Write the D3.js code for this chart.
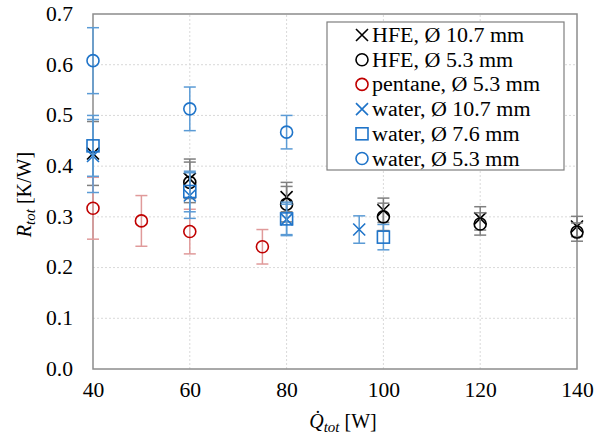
<!DOCTYPE html>
<html>
<head>
<meta charset="utf-8">
<script src="https://d3js.org/d3.v7.min.js"></script>
<style>
  body { margin: 0; background: #fff; }
</style>
</head>
<body>
<div id="chart"></div>
<script>
// tick labels
const xTicks = [40, 60, 80, 100, 120, 140];
const yTicks = [0, 0.1, 0.2, 0.3, 0.4, 0.5, 0.6, 0.7];

// series values (Q_tot [W], R_tot [K/W], error)
const hfe107Q = [40, 60, 80, 100, 120, 140];
const hfe107R = [0.425, 0.375, 0.339, 0.313, 0.297, 0.281];
const hfe107E = [0.063, 0.039, 0.029, 0.024, 0.023, 0.02];

const hfe53Q = [60, 80, 100, 120, 140];
const hfe53R = [0.368, 0.325, 0.300, 0.286, 0.270];
const hfe53E = [0.04, 0.035, 0.027, 0.022, 0.018];

const pentQ = [40, 50, 60, 75];
const pentR = [0.317, 0.292, 0.271, 0.241];
const pentE = [0.061, 0.05, 0.044, 0.034];

const w107Q = [40, 60, 80, 95];
const w107R = [0.420, 0.342, 0.295, 0.275];
const w107E = [0.072, 0.045, 0.03, 0.027];

const w76Q = [40, 60, 80, 100];
const w76R = [0.440, 0.350, 0.296, 0.260];
const w76E = [0.06, 0.04, 0.033, 0.025];

const w53Q = [40, 60, 80];
const w53R = [0.608, 0.513, 0.467];
const w53E = [0.065, 0.043, 0.033];

const series = [
  {name: "HFE, Ø 10.7 mm", q: hfe107Q, r: hfe107R, e: hfe107E, shape: "x", color: "#000", err: "#7f7f7f"},
  {name: "HFE, Ø 5.3 mm", q: hfe53Q, r: hfe53R, e: hfe53E, shape: "circle", color: "#000", err: "#7f7f7f"},
  {name: "pentane, Ø 5.3 mm", q: pentQ, r: pentR, e: pentE, shape: "circle", color: "#c00000", err: "#e09a9a"},
  {name: "water, Ø 10.7 mm", q: w107Q, r: w107R, e: w107E, shape: "x", color: "#1f74c9", err: "#5b9bd5"},
  {name: "water, Ø 7.6 mm", q: w76Q, r: w76R, e: w76E, shape: "square", color: "#1f74c9", err: "#5b9bd5"},
  {name: "water, Ø 5.3 mm", q: w53Q, r: w53R, e: w53E, shape: "circle", color: "#1f74c9", err: "#5b9bd5"}
];

const W = 594, H = 441;
const margin = {left: 93, right: 17, top: 14, bottom: 72};
const FONT = '"Liberation Serif"';

const svg = d3.select("#chart").append("svg")
  .attr("width", W).attr("height", H)
  .style("font-family", FONT);

const x = d3.scaleLinear().domain([40, 140]).range([margin.left, W - margin.right]);
const y = d3.scaleLinear().domain([0, 0.7]).range([H - margin.bottom, margin.top]);

// slightly wider glyphs, like the original export
function stretch(sel, k) {
  sel.each(function() {
    const len = this.getComputedTextLength();
    d3.select(this).attr("textLength", len * k).attr("lengthAdjust", "spacingAndGlyphs");
  });
}

// grid
svg.append("g").selectAll("line").data(xTicks.slice(1, -1)).join("line")
  .attr("x1", d => x(d)).attr("x2", d => x(d))
  .attr("y1", y(0)).attr("y2", y(0.7))
  .attr("stroke", "#d9d9d9").attr("stroke-dasharray", "2,2");
svg.append("g").selectAll("line").data(yTicks.slice(1, -1)).join("line")
  .attr("x1", x(40)).attr("x2", x(140))
  .attr("y1", d => y(d)).attr("y2", d => y(d))
  .attr("stroke", "#d9d9d9").attr("stroke-dasharray", "2,2");

// frame
svg.append("rect")
  .attr("x", x(40)).attr("y", y(0.7))
  .attr("width", x(140) - x(40)).attr("height", y(0) - y(0.7))
  .attr("fill", "none").attr("stroke", "#8c8c8c").attr("stroke-width", 1.5);

// axes (labels only)
const xAxis = svg.append("g")
  .attr("transform", `translate(0,${y(0)})`)
  .call(d3.axisBottom(x).tickValues(xTicks).tickSize(0).tickPadding(14));
const yAxis = svg.append("g")
  .attr("transform", `translate(${x(40)},0)`)
  .call(d3.axisLeft(y).tickValues(yTicks).tickFormat(d3.format(".1f")).tickSize(0).tickPadding(20));
[xAxis, yAxis].forEach(a => {
  a.attr("font-family", null).attr("font-size", null);
  a.select(".domain").remove();
  a.selectAll("text").style("font-family", FONT).attr("font-size", 20).attr("fill", "#000");
  stretch(a.selectAll("text"), 1.08);
});

// axis titles
const xt = svg.append("text")
  .attr("x", (x(40) + x(140)) / 2 + 8).attr("y", 428)
  .attr("text-anchor", "middle").attr("font-size", 20).style("font-family", FONT);
xt.append("tspan").attr("font-style", "italic").text("Q̇");
xt.append("tspan").attr("font-style", "italic").attr("font-size", 15).attr("dy", 4).text("tot");
xt.append("tspan").attr("dy", -4).text(" [W]");

const yt = svg.append("text")
  .attr("transform", `translate(31,${(y(0) + y(0.7)) / 2 + 3}) rotate(-90)`)
  .attr("text-anchor", "middle").attr("font-size", 20).style("font-family", FONT);
yt.append("tspan").attr("font-style", "italic").text("R");
yt.append("tspan").attr("font-style", "italic").attr("font-size", 15).attr("dy", 4).text("tot");
yt.append("tspan").attr("dy", -4).text(" [K/W]");

// marker
function drawMarker(g, shape, cx, cy, color) {
  const s = 6;
  if (shape === "circle") {
    g.append("circle").attr("cx", cx).attr("cy", cy).attr("r", s)
      .attr("fill", "none").attr("stroke", color).attr("stroke-width", 1.6);
  } else if (shape === "square") {
    g.append("rect").attr("x", cx - s).attr("y", cy - s).attr("width", 2 * s).attr("height", 2 * s)
      .attr("fill", "none").attr("stroke", color).attr("stroke-width", 1.6);
  } else {
    g.append("path").attr("d", `M${cx - s},${cy - s}L${cx + s},${cy + s}M${cx - s},${cy + s}L${cx + s},${cy - s}`)
      .attr("fill", "none").attr("stroke", color).attr("stroke-width", 1.6);
  }
}

// series: error bars then markers
series.forEach(s => {
  const g = svg.append("g");
  const pts = s.q.map((q, i) => ({q, r: s.r[i], e: s.e[i]}));
  pts.forEach(p => {
    const cx = x(p.q), y1 = y(p.r + p.e), y2 = y(p.r - p.e);
    g.append("line").attr("x1", cx).attr("x2", cx).attr("y1", y1).attr("y2", y2)
      .attr("stroke", s.err).attr("stroke-width", 1.5);
    [y1, y2].forEach(yy => g.append("line").attr("x1", cx - 6).attr("x2", cx + 6)
      .attr("y1", yy).attr("y2", yy).attr("stroke", s.err).attr("stroke-width", 1.5));
  });
  pts.forEach(p => drawMarker(g, s.shape, x(p.q), y(p.r), s.color));
});

// legend
const lg = svg.append("g");
lg.append("rect").attr("x", 327).attr("y", 22).attr("width", 237).attr("height", 148)
  .attr("fill", "#fff").attr("stroke", "#7f7f7f").attr("stroke-width", 1.2);
series.forEach((s, i) => {
  const cy = 35 + i * 24.7;
  drawMarker(lg, s.shape, 362, cy, s.color);
  const t = lg.append("text").attr("x", 372).attr("y", cy + 7)
    .attr("font-size", 20).style("font-family", FONT).text(s.name);
  stretch(t, 1.1);
});
</script>
</body>
</html>
